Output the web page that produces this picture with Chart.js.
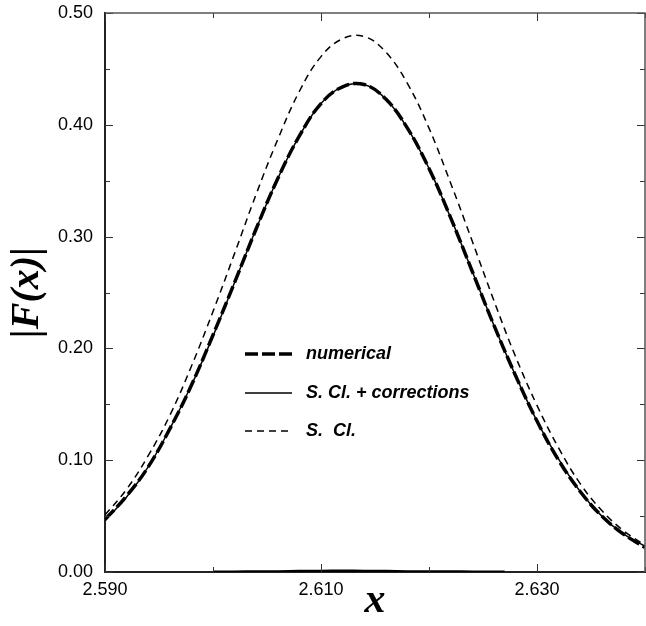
<!DOCTYPE html>
<html>
<head>
<meta charset="utf-8">
<script src="https://cdn.jsdelivr.net/npm/chart.js@4/dist/chart.umd.min.js"></script>
<style>
  html, body { margin: 0; padding: 0; background: #fff; }
  #wrap { width: 646px; height: 626px; }
</style>
</head>
<body>
<div id="wrap"><canvas id="fChart" width="646" height="626"></canvas></div>
<script>
// Data
const xValues = [2.590, 2.592, 2.594, 2.596, 2.598, 2.600, 2.602, 2.604, 2.606, 2.608, 2.610, 2.612, 2.614,
                 2.616, 2.618, 2.620, 2.622, 2.624, 2.626, 2.628, 2.630, 2.632, 2.634, 2.636, 2.638, 2.640];
const numerical = [0.047, 0.068, 0.094, 0.128, 0.167, 0.212, 0.259, 0.307, 0.352, 0.390, 0.419, 0.434, 0.436,
                   0.423, 0.397, 0.361, 0.317, 0.269, 0.221, 0.176, 0.135, 0.100, 0.072, 0.050, 0.034, 0.022];
const scCorrections = [0.046, 0.067, 0.094, 0.128, 0.167, 0.211, 0.259, 0.307, 0.352, 0.390, 0.419, 0.434, 0.436,
                       0.423, 0.397, 0.361, 0.317, 0.269, 0.221, 0.176, 0.135, 0.101, 0.072, 0.050, 0.034, 0.023];
const semiClassical = [0.051, 0.074, 0.104, 0.140, 0.184, 0.233, 0.285, 0.338, 0.387, 0.430, 0.461, 0.477, 0.479,
                       0.465, 0.437, 0.397, 0.348, 0.296, 0.243, 0.193, 0.149, 0.111, 0.079, 0.055, 0.037, 0.024];
// small residual drawn along the x axis
const residualX = [2.600, 2.602, 2.604, 2.606, 2.608, 2.610, 2.612, 2.614, 2.616, 2.618, 2.620, 2.622, 2.624, 2.626, 2.627];
const residual = [0.0002, 0.0003, 0.0004, 0.0005, 0.0008, 0.0010, 0.0011, 0.0010, 0.0008, 0.0005, 0.0004, 0.0004, 0.0003, 0.0003, 0.0002];

const seriesLabels = ['numerical', 'S. Cl. + corrections', 'S.  Cl.'];
const xTickValues = [2.590, 2.610, 2.630];
const xMinorValues = [2.600, 2.620, 2.640];
const yTickValues = [0.00, 0.10, 0.20, 0.30, 0.40, 0.50];
const yMinorValues = [0.05, 0.15, 0.25, 0.35, 0.45];

const toPoints = (xs, ys) => xs.map((x, i) => ({ x: x, y: ys[i] }));

// Inward tick marks plus top/right frame
const frameTicks = {
    id: 'frameTicks',
    afterDatasetsDraw(chart) {
        const { ctx, chartArea: a, scales } = chart;
        ctx.save();
        ctx.strokeStyle = '#333';
        ctx.lineWidth = 1;
        const major = 8, minor = 5;
        const vTick = (v, len) => {
            const px = Math.round(scales.x.getPixelForValue(v)) + 0.5;
            ctx.beginPath();
            ctx.moveTo(px, a.bottom); ctx.lineTo(px, a.bottom - len);
            ctx.moveTo(px, a.top); ctx.lineTo(px, a.top + len);
            ctx.stroke();
        };
        const hTick = (v, len) => {
            const py = Math.round(scales.y.getPixelForValue(v)) + 0.5;
            ctx.beginPath();
            ctx.moveTo(a.left, py); ctx.lineTo(a.left + len, py);
            ctx.moveTo(a.right, py); ctx.lineTo(a.right - len, py);
            ctx.stroke();
        };
        xTickValues.forEach(v => vTick(v, major));
        xMinorValues.forEach(v => vTick(v, minor));
        yTickValues.forEach(v => hTick(v, major));
        yMinorValues.forEach(v => hTick(v, minor));

        // top and right border
        ctx.strokeStyle = '#555';
        ctx.lineWidth = 1.5;
        ctx.beginPath();
        ctx.moveTo(a.left, a.top); ctx.lineTo(a.right, a.top); ctx.lineTo(a.right, a.bottom);
        ctx.stroke();
        ctx.restore();
    }
};

// Legend drawn inside the plot
const innerLegend = {
    id: 'innerLegend',
    afterDraw(chart) {
        const ctx = chart.ctx;
        const x0 = 245, x1 = 292, tx = 306;
        const rows = [354, 393, 431];
        ctx.save();
        ctx.font = 'italic bold 18px "Liberation Sans", Arial, sans-serif';
        ctx.textBaseline = 'middle';
        ctx.fillStyle = '#000';
        chart.data.datasets.slice(0, 3).forEach((ds, i) => {
            ctx.strokeStyle = '#000';
            ctx.lineWidth = ds.borderWidth;
            ctx.setLineDash(ds.borderDash || []);
            ctx.beginPath();
            ctx.moveTo(x0, rows[i]); ctx.lineTo(x1, rows[i]);
            ctx.stroke();
            ctx.setLineDash([]);
            ctx.fillText(ds.label, tx, rows[i]);
        });
        ctx.restore();
    }
};

const ctx = document.getElementById('fChart').getContext('2d');

new Chart(ctx, {
    type: 'line',
    data: {
        datasets: [
            {
                label: seriesLabels[0],
                data: toPoints(xValues, numerical),
                borderColor: '#000',
                borderWidth: 3.5,
                borderDash: [13, 4],
                order: 1
            },
            {
                label: seriesLabels[1],
                data: toPoints(xValues, scCorrections),
                borderColor: '#000',
                borderWidth: 1.5,
                order: 2
            },
            {
                label: seriesLabels[2],
                data: toPoints(xValues, semiClassical),
                borderColor: '#000',
                borderWidth: 1.5,
                borderDash: [7, 5],
                order: 3
            },
            {
                label: 'residual',
                data: toPoints(residualX, residual),
                borderColor: '#000',
                borderWidth: 2.5,
                order: 4
            }
        ]
    },
    options: {
        responsive: false,
        animation: false,
        layout: { padding: { top: 13, right: 1, left: 0, bottom: 0 } },
        elements: {
            point: { radius: 0 },
            line: { tension: 0.4, fill: false }
        },
        plugins: {
            legend: { display: false },
            tooltip: { enabled: false }
        },
        scales: {
            x: {
                type: 'linear',
                min: 2.59,
                max: 2.64,
                afterBuildTicks: scale => { scale.ticks = xTickValues.map(v => ({ value: v })); },
                afterFit: scale => { scale.height = 54; scale.paddingRight = 0; },
                grid: { display: false, drawTicks: false },
                border: { display: true, color: '#222', width: 2 },
                ticks: {
                    color: '#000',
                    font: { family: '"Liberation Sans", Arial, sans-serif', size: 18 },
                    padding: 7,
                    maxRotation: 0,
                    callback: v => v.toFixed(3)
                },
                title: {
                    display: true,
                    text: 'x',
                    color: '#000',
                    font: { family: '"Liberation Serif", "Times New Roman", serif', size: 42, style: 'italic', weight: 'bold' },
                    padding: { top: -12, bottom: 0 }
                }
            },
            y: {
                type: 'linear',
                min: 0,
                max: 0.5,
                afterBuildTicks: scale => { scale.ticks = yTickValues.map(v => ({ value: v })); },
                afterFit: scale => { scale.width = 105; scale.paddingTop = 0; scale.paddingBottom = 0; },
                grid: { display: false, drawTicks: false },
                border: { display: true, color: '#222', width: 2 },
                ticks: {
                    color: '#000',
                    font: { family: '"Liberation Sans", Arial, sans-serif', size: 18 },
                    padding: 12,
                    callback: v => v.toFixed(2)
                },
                title: {
                    display: true,
                    text: '|F(x)|',
                    color: '#000',
                    font: { family: '"Liberation Serif", "Times New Roman", serif', size: 40, style: 'italic', weight: 'bold' },
                    padding: { top: 4, bottom: 0 }
                }
            }
        }
    },
    plugins: [frameTicks, innerLegend]
});
</script>
</body>
</html>
